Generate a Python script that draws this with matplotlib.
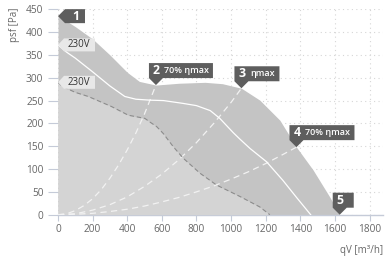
import matplotlib
matplotlib.use("Agg")
import matplotlib.pyplot as plt
from matplotlib.patches import Polygon
from matplotlib.transforms import Affine2D, ScaledTranslation

plt.rcParams["font.family"] = ["Open Sans", "DejaVu Sans"]

# ---------------- data ----------------
env_x = [0, 50, 100, 200, 300, 400, 470, 566, 700, 850, 950, 1060, 1166, 1282, 1378, 1474, 1570, 1628]
env_y = [435, 424, 412, 385, 350, 312, 292, 284, 288, 290, 287, 277, 251, 207, 148, 98, 39, 0]

w230_x = [0, 50, 100, 200, 300, 386, 450, 530, 610, 720, 800, 880, 935, 1012, 1050, 1110, 1205, 1300, 1378, 1460]
w230_y = [372, 356, 343, 313, 282, 259, 253, 251, 250, 244, 239, 228, 211, 180, 166, 145, 116, 75, 38, 0]

d230_x = [0, 25, 100, 175, 309, 406, 502, 531, 570, 608, 666, 723, 820, 916, 1051, 1166, 1224]
d230_y = [290, 281, 268, 259, 237, 218, 211, 203, 193, 178, 149, 124, 91, 65, 40, 17, 0]

eta2_x = [0, 50, 100, 150, 200, 250, 300, 350, 400, 450, 500, 566]
eta2_y = [0, 2, 9, 20, 35, 55, 80, 109, 142, 179, 221, 284]

eta3_x = [0, 100, 200, 300, 400, 500, 600, 700, 800, 900, 1000, 1060]
eta3_y = [0, 2, 10, 22, 39, 62, 89, 121, 158, 200, 246, 277]

eta4_x = [0, 100, 200, 300, 400, 500, 600, 700, 800, 900, 1000, 1100, 1200, 1300, 1378]
eta4_y = [0, 1, 3, 7, 12, 19, 28, 38, 50, 63, 78, 94, 112, 132, 148]

x_ticks = [0, 200, 400, 600, 800, 1000, 1200, 1400, 1600, 1800]
y_ticks = [0, 50, 100, 150, 200, 250, 300, 350, 400, 450]

point_labels = [("2", "70% ηmax"), ("3", "ηmax"), ("4", "70% ηmax"), ("5", "")]
point_x = [566, 1060, 1378, 1628]
point_y = [284, 277, 148, 0]
volt_labels = ["230V", "230V"]
volt_y = [372, 290]

# ---------------- figure ----------------
fig = plt.figure(figsize=(3.89, 2.58), dpi=100)
ax = fig.add_axes([58 / 389, 1 - 214.7 / 258, (383 - 58) / 389, (214.7 - 9.3) / 258])
ax.set_xlim(0, 1878)
ax.set_ylim(0, 450)

tick_c = "#666666"
ax.set_xticks(x_ticks)
ax.set_yticks(y_ticks)
ax.tick_params(axis="x", length=4, width=0.8, color="#c5cbd8", labelsize=7.3, labelcolor=tick_c, pad=3)
ax.tick_params(axis="y", length=7, width=0.8, color="#c5cbd8", labelsize=7.3, labelcolor=tick_c, pad=3.5)
for s in ["top", "right", "left"]:
    ax.spines[s].set_visible(False)
ax.spines["bottom"].set_color("#c5cbd8")
ax.spines["bottom"].set_linewidth(1.0)
ax.grid(True, color="#d6d6d6", linestyle=(0, (1, 3)), linewidth=0.8)
ax.set_axisbelow(True)

ax.fill_between(env_x, env_y, 0, color="#c4c4c4", lw=0, zorder=2)
ax.fill_between(d230_x, d230_y, 0, color="#d4d4d4", lw=0, zorder=3)
ax.plot(w230_x, w230_y, color="white", lw=0.9, zorder=5)
ax.plot(d230_x, d230_y, color="#8c8c8c", lw=0.8, ls=(0, (4, 2.5)), zorder=5)
for ex, ey in [(eta2_x, eta2_y), (eta3_x, eta3_y), (eta4_x, eta4_y)]:
    ax.plot(ex, ey, color="#f2f2f2", lw=0.9, ls=(0, (5, 3.5)), zorder=4)


def pix_tr(x, y):
    return Affine2D().scale(1 / fig.dpi) + fig.dpi_scale_trans + ScaledTranslation(x, y, ax.transData)


dark = "#5e5e5e"
# label 1 (left pointing)
verts = [(0, 0), (7, 7), (27, 7), (27, -7), (7, -7)]
ax.add_patch(Polygon(verts, closed=True, transform=pix_tr(env_x[0], env_y[0]), fc=dark, ec="none",
                     clip_on=False, zorder=10))
ax.annotate("1", xy=(env_x[0], env_y[0]), xytext=(17.5, 0), textcoords="offset pixels",
            ha="center", va="center", color="white", fontsize=8.8, fontweight="bold", zorder=11,
            annotation_clip=False)

# 230V labels
for lab, vy in zip(volt_labels, volt_y):
    verts = [(0, 0), (6, 6.5), (37, 6.5), (37, -6.5), (6, -6.5)]
    ax.add_patch(Polygon(verts, closed=True, transform=pix_tr(0, vy), fc="#e8e8e8", ec="none",
                         clip_on=False, zorder=10))
    ax.annotate(lab, xy=(0, vy), xytext=(21, 0), textcoords="offset pixels", ha="center", va="center",
                color="#333333", fontsize=7, zorder=11, annotation_clip=False)

# down-pointing labels
widths = [64, 45, 65, 21]
for (num, txt), px, py, w in zip(point_labels, point_x, point_y, widths):
    verts = [(-7, 7), (-7, 22), (w - 7, 22), (w - 7, 7), (7, 7), (0, 0)]
    ax.add_patch(Polygon(verts, closed=True, transform=pix_tr(px, py), fc=dark, ec="none",
                         clip_on=False, zorder=10))
    ax.annotate(num, xy=(px, py), xytext=(-3, 14.5), textcoords="offset pixels", ha="left", va="center",
                color="white", fontsize=8.8, fontweight="bold", zorder=11, annotation_clip=False)
    if txt:
        ax.annotate(txt, xy=(px, py), xytext=(8.5, 14.5), textcoords="offset pixels", ha="left",
                    va="center", color="white", fontsize=6.5, fontweight="semibold", zorder=11,
                    annotation_clip=False)

fig.text(14 / 389, 1 - 25 / 258, "psf [Pa]", rotation=90, ha="center", va="center", color=tick_c, fontsize=7)
fig.text(383 / 389, 1 - 250 / 258, "qV [m³/h]", ha="right", va="center", color=tick_c, fontsize=7)

fig.savefig("out.png", dpi=100, facecolor="white")
